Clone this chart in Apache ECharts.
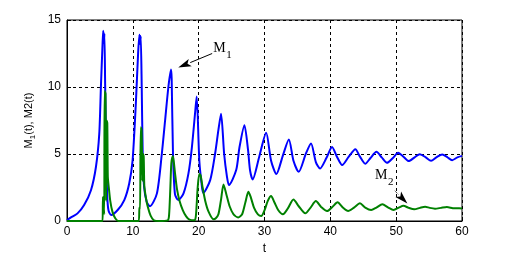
<!DOCTYPE html>
<html>
<head>
<meta charset="utf-8">
<script src="https://cdn.jsdelivr.net/npm/echarts@6/dist/echarts.min.js"></script>
<style>
  html, body { margin: 0; padding: 0; background: #fff; }
  #chart { width: 512px; height: 256px; }
</style>
</head>
<body>
<div id="chart"></div>
<script>
// values
var tBlue = [0, 0.6, 1.6, 2.6, 3.64, 4.4, 4.9, 5.15, 5.4, 5.5, 5.6, 5.68, 5.8, 5.95, 6.1, 6.3, 6.7,
  7.7, 8.7, 9.45, 9.96, 10.46, 10.8, 11.0, 11.1, 11.2, 11.35, 11.5, 11.7, 12.1, 12.6,
  13.66, 14.4, 14.9, 15.4, 15.8, 15.9, 16.1, 16.4, 16.9, 17.7, 18.45, 18.97, 19.5, 19.7,
  20.1, 20.5, 20.7, 21.75, 22.5, 23.0, 23.4, 23.87, 24.3, 24.6, 25.7, 26.2, 26.95, 27.5, 27.8, 28.2,
  29.2, 30.25, 31.0, 31.8, 32.8, 33.7, 34.4, 35.2, 36.3, 37.07, 37.8, 38.44,
  39.4, 40.26, 41.0, 41.8, 42.8, 43.8, 44.5, 45.3, 46.1, 47.0, 47.8, 48.6,
  49.5, 50.3, 51.1, 51.9, 52.8, 53.6, 54.5, 55.3, 56.1, 57.0, 57.8, 58.5, 59.3, 60];
var m1 = [0.05, 0.27, 0.57, 1.19, 2.3, 4.05, 6.5, 10.0, 13.2, 14.2, 13.3, 14.0, 10.0, 5.5, 2.0, 0.8, 0.45,
  0.82, 1.56, 2.8, 4.5, 8.8, 12.5, 13.9, 13.2, 13.8, 10.0, 5.0, 2.6, 1.44, 1.1,
  2.06, 5.0, 7.5, 10.0, 11.3, 10.6, 5.0, 2.0, 1.56, 2.06, 3.55, 5.5, 8.3, 9.3,
  4.5, 2.55, 2.1, 3.05, 5.04, 6.8, 8.0, 5.0, 3.3, 2.68, 3.8, 5.5, 7.15, 5.3, 3.8, 3.1,
  4.8, 6.58, 4.5, 3.5, 4.9, 6.08, 4.5, 3.67, 5.04, 5.78, 4.4, 3.92,
  4.7, 5.53, 4.8, 4.17, 4.8, 5.36, 4.8, 4.27, 4.7, 5.16, 4.75, 4.34,
  4.7, 5.09, 4.8, 4.47, 4.75, 4.99, 4.75, 4.49, 4.75, 4.97, 4.75, 4.54, 4.75, 4.86];

var tGreen = [0, 5.4, 5.46, 5.55, 5.65, 5.71, 5.85, 5.95, 6.02, 6.12, 6.2, 6.35, 6.57, 6.9, 7.33, 7.8,
  10.9, 11.0, 11.1, 11.2, 11.33, 11.45, 11.55, 11.65, 11.75, 12.0, 12.3, 12.7, 13.2, 14.0,
  15.3, 15.5, 15.7, 15.85, 16.08, 16.2, 16.4, 16.7, 17.1, 17.6, 18.1, 18.6, 19.4,
  19.6, 19.85, 20.1, 20.3, 20.6, 21.0, 21.5, 22.25, 22.6, 23.0, 23.4, 23.77, 24.2, 24.7, 25.3, 26.0,
  26.6, 27.1, 27.55, 27.9, 28.4, 29.0, 29.5, 30.0, 30.5, 31.0, 31.5, 32.1, 32.8,
  33.5, 34.4, 35.2, 36.2, 37.0, 37.8, 38.6, 39.5, 40.3, 41.1, 41.9, 42.7, 43.6, 44.5, 45.3, 46.2,
  47.0, 47.9, 48.8, 49.6, 50.4, 51.1, 51.9, 52.75, 53.6, 54.4, 55.1, 55.9, 56.8, 57.7, 58.6, 59.2, 60];
var m2 = [0, 0, 1.8, 1.8, 0.5, 9.7, 9.5, 1.5, 7.5, 7.3, 3.3, 2.5, 1.5, 0.7, 0.2, 0,
  0, 1.0, 0.9, 7.0, 6.8, 3.0, 5.0, 4.8, 2.6, 1.7, 1.0, 0.4, 0.05, 0,
  0.05, 0.4, 2.5, 4.3, 4.84, 4.5, 3.6, 2.4, 1.5, 0.8, 0.35, 0.1, 0.05,
  0.5, 2.5, 3.5, 3.4, 2.5, 1.5, 0.7, 0.13, 0.2, 0.5, 1.6, 2.73, 2.0, 1.1, 0.5, 0.27,
  0.5, 1.4, 2.18, 1.8, 1.0, 0.5, 0.37, 0.8, 1.5, 1.86, 1.4, 0.8, 0.5,
  0.9, 1.61, 1.1, 0.57, 1.0, 1.49, 1.05, 0.74, 1.05, 1.39, 1.0, 0.74, 1.0, 1.32, 1.0, 0.82,
  1.0, 1.25, 1.0, 0.82, 1.0, 1.14, 0.98, 0.87, 0.98, 1.07, 0.98, 0.92, 0.98, 1.04, 0.96, 0.95, 0.94];

var xTicks = { min: 0, max: 60, step: 10 };
var yTicks = { min: 0, max: 15, step: 5 };

// annotation anchors in data units: text position, arrow tail, arrow tip
var noteM1 = { sub: '1', text: [22.2, 12.35], tail: [22.05, 12.5], tip: [16.9, 11.45] };
var noteM2 = { sub: '2', text: [46.8, 2.85], tail: [49.8, 2.25], tip: [51.7, 1.3] };

function pairs(xs, ys) {
  return xs.map(function (x, i) { return [x, ys[i]]; });
}

var chart = echarts.init(document.getElementById('chart'), null, { renderer: 'canvas' });

var gridDash = { color: '#000', width: 1, type: [3, 3] };
var axisFont = { color: '#000', fontFamily: 'Liberation Sans', fontSize: 12 };

chart.setOption({
  animation: false,
  backgroundColor: '#fff',
  grid: {
    left: 67, right: 50, top: 20, bottom: 35,
    outerBoundsMode: 'none', containLabel: false,
    show: true, borderColor: '#000', borderWidth: 1, backgroundColor: 'transparent'
  },
  xAxis: {
    type: 'value', min: xTicks.min, max: xTicks.max, interval: xTicks.step,
    name: 't', nameLocation: 'middle', nameGap: 20,
    nameTextStyle: axisFont,
    axisLine: { show: true, lineStyle: { color: '#000' } },
    axisTick: { show: true, inside: true, length: 4, lineStyle: { color: '#000' } },
    axisLabel: Object.assign({ margin: 5 }, axisFont),
    splitLine: { show: true, lineStyle: gridDash }
  },
  yAxis: {
    type: 'value', min: yTicks.min, max: yTicks.max, interval: yTicks.step,
    name: 'M{s|1}(t), M2(t)', nameLocation: 'middle', nameGap: 28,
    nameTextStyle: {
      color: '#000', fontFamily: 'Liberation Sans', fontSize: 11,
      rich: { s: { fontFamily: 'Liberation Sans', fontSize: 8, color: '#000', padding: [7, 0, 0, 0] } }
    },
    axisLine: { show: true, lineStyle: { color: '#000' } },
    axisTick: { show: true, inside: true, length: 4, lineStyle: { color: '#000' } },
    axisLabel: Object.assign({ margin: 6 }, axisFont),
    splitLine: { show: true, lineStyle: gridDash }
  },
  series: [
    {
      name: 'M1', type: 'line', data: pairs(tBlue, m1), showSymbol: false, smooth: 0.25,
      lineStyle: { color: '#0000ff', width: 2 }, itemStyle: { color: '#0000ff' }
    },
    {
      name: 'M2', type: 'line', data: pairs(tGreen, m2), showSymbol: false, smooth: 0.25,
      lineStyle: { color: '#008000', width: 2 }, itemStyle: { color: '#008000' }
    }
  ]
});

// arrows and labels, placed from data coordinates
function note(n, dotted) {
  var p = chart.convertToPixel({ gridIndex: 0 }, n.text);
  var a = chart.convertToPixel({ gridIndex: 0 }, n.tail);
  var b = chart.convertToPixel({ gridIndex: 0 }, n.tip);
  var dx = b[0] - a[0], dy = b[1] - a[1];
  var len = Math.sqrt(dx * dx + dy * dy);
  var ux = dx / len, uy = dy / len;
  var L = 13, W = 4;
  var bx = b[0] - ux * L, by = b[1] - uy * L;
  return [
    { type: 'line', shape: { x1: a[0], y1: a[1], x2: bx, y2: by },
      style: { stroke: '#000', lineWidth: 1, lineDash: dotted ? [1, 1] : null } },
    { type: 'polygon', shape: { points: [b, [bx - uy * W, by + ux * W], [bx + ux * 3, by + uy * 3], [bx + uy * W, by - ux * W]] },
      style: { fill: '#000' } },
    { type: 'text', x: p[0], y: p[1],
      style: { text: 'M', font: '14px "Liberation Serif"', fill: '#000', textVerticalAlign: 'bottom' } },
    { type: 'text', x: p[0] + 13, y: p[1] + 5,
      style: { text: n.sub, font: '11px "Liberation Serif"', fill: '#000', textVerticalAlign: 'bottom' } }
  ];
}

chart.setOption({ graphic: note(noteM1, false).concat(note(noteM2, true)) });
</script>
</body>
</html>
